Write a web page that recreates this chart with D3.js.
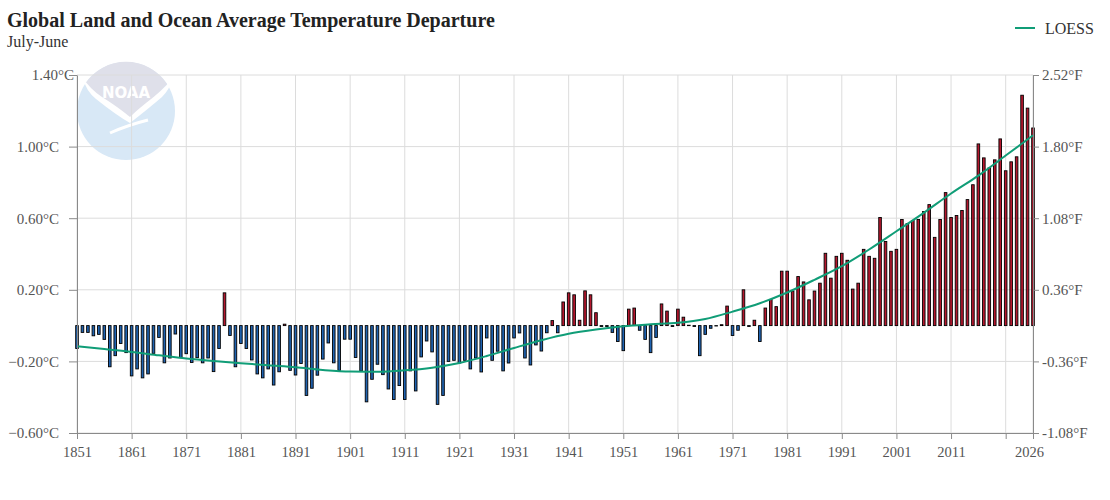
<!DOCTYPE html>
<html>
<head>
<meta charset="utf-8">
<script src="https://cdn.jsdelivr.net/npm/d3@7"></script>
<style>
  body { margin: 0; background: #fff; }
  #chart-area text { font-family: "Liberation Serif", "Times New Roman", serif; }
</style>
</head>
<body>
<div id="chart-area"></div>
<script>
// July-June anomalies (°C), one per year starting at startYear
var startYear = 1851;
var anomalies = [
  -0.128,-0.038,-0.038,-0.057,-0.049,-0.077,-0.23,-0.168,-0.10,-0.151,
  -0.281,-0.242,-0.292,-0.27,-0.155,-0.066,-0.208,-0.181,-0.047,-0.179,
  -0.157,-0.206,-0.179,-0.208,-0.181,-0.257,-0.128,0.183,-0.055,-0.23,
  -0.10,-0.128,-0.192,-0.27,-0.292,-0.242,-0.332,-0.258,0.008,-0.25,
  -0.276,-0.212,-0.39,-0.35,-0.277,-0.187,-0.097,-0.208,-0.25,-0.076,
  -0.076,-0.178,-0.253,-0.426,-0.30,-0.216,-0.274,-0.354,-0.413,-0.335,
  -0.413,-0.253,-0.365,-0.175,-0.086,-0.147,-0.44,-0.39,-0.2,-0.194,
  -0.209,-0.194,-0.242,-0.181,-0.259,-0.069,-0.194,-0.143,-0.253,-0.209,
  -0.069,-0.041,-0.181,-0.22,-0.108,-0.142,-0.04,0.028,-0.04,0.132,
  0.183,0.172,0.03,0.194,0.172,0.072,-0.005,-0.005,-0.038,-0.089,
  -0.14,0.092,0.098,-0.026,-0.077,-0.151,-0.066,0.121,0.081,-0.005,
  0.092,0.047,0.002,-0.005,-0.168,-0.049,-0.015,-0.002,0.005,0.109,
  -0.055,-0.026,0.2,-0.005,0.03,-0.089,0.098,0.146,0.106,0.304,
  0.304,0.193,0.274,0.244,0.144,0.193,0.237,0.404,0.265,0.387,
  0.404,0.365,0.204,0.237,0.426,0.387,0.376,0.604,0.47,0.415,
  0.426,0.593,0.57,0.587,0.593,0.637,0.676,0.493,0.593,0.743,
  0.604,0.615,0.643,0.704,0.787,1.015,0.937,0.881,0.926,1.043,
  0.865,0.915,0.943,1.287,1.215,1.104
];

// LOESS curve every five years
var loessYears = [1851,1856,1861,1866,1871,1876,1881,1886,1891,1896,1901,1906,1911,1916,1921,1926,1931,1936,
  1941,1946,1951,1956,1961,1966,1971,1976,1981,1986,1991,1996,2001,2006,2011,2016,2021,2026];
var loessValues = [-0.115,-0.131,-0.147,-0.166,-0.184,-0.198,-0.21,-0.222,-0.233,-0.248,-0.257,-0.258,-0.25,-0.235,
  -0.209,-0.17,-0.125,-0.082,-0.046,-0.022,-0.004,0.007,0.016,0.037,0.078,0.125,0.185,0.256,0.332,0.425,
  0.527,0.63,0.738,0.838,0.95,1.063];

var gridYears = [1851,1861,1871,1881,1891,1901,1911,1921,1931,1941,1951,1961,1971,1981,1991,2001,2011,2021,2026];
var labelYears = [1851,1861,1871,1881,1891,1901,1911,1921,1931,1941,1951,1961,1971,1981,1991,2001,2011,2026];
var celsiusTicks = [-0.6, -0.2, 0.2, 0.6, 1.0, 1.4];
var fahrenheitLabels = ["-1.08°F", "-0.36°F", "0.36°F", "1.08°F", "1.80°F", "2.52°F"];


TempChart = function(_parentElement) {
  this.parentElement = _parentElement;
  this.margin = {top: 75, right: 77, bottom: 67, left: 77};
  this.width = 1110 - this.margin.left - this.margin.right;
  this.height = 500 - this.margin.top - this.margin.bottom;

  this.initVis();
}

TempChart.prototype.initVis = function() {
  var vis = this;

  vis.root = d3.select("#" + vis.parentElement)
    .append("svg")
    .attr("width", 1110)
    .attr("height", 500);

  vis.drawLogo();

  vis.svg = vis.root.append("g")
    .attr("transform", "translate(" + vis.margin.left + "," + vis.margin.top + ")");

  vis.x = d3.scaleLinear()
    .domain([1851, 2026])
    .range([0, vis.width]);

  vis.y = d3.scaleLinear()
    .domain([-0.6, 1.4])
    .range([vis.height, 0]);

  vis.data = anomalies.map(function(d, i) {
    return {year: startYear + i, value: d};
  });

  vis.loess = loessYears.map(function(d, i) {
    return {year: d, value: loessValues[i]};
  });

  vis.drawTitles();
  vis.updateVis();
}

TempChart.prototype.drawLogo = function() {
  var vis = this;

  var logo = vis.root.append("g")
    .attr("transform", "translate(126,111)");

  logo.append("circle")
    .attr("r", 49)
    .attr("fill", "#d8e8f6");

  // upper cap of the logo
  logo.append("path")
    .attr("d", "M-41,-27 A49,49 0 0 1 41,-27 Q20,-4 4,9 Q-18,-4 -41,-27 Z")
    .attr("fill", "#dfe0ea");

  // gull
  logo.append("path")
    .attr("d", "M-43,-33 Q-40,-20 -30,-12 Q-10,4 4,12 Q22,-2 36,-14 Q44,-22 46,-32 Q36,-20 20,-8 Q10,0 4,6 Q-8,-4 -24,-14 Q-36,-22 -43,-33 Z")
    .attr("fill", "#fff");

  logo.append("path")
    .attr("d", "M-16,22 Q2,14 22,9")
    .attr("fill", "none")
    .attr("stroke", "#fff")
    .attr("stroke-width", 3);

  logo.append("text")
    .attr("x", 0)
    .attr("y", -13)
    .attr("text-anchor", "middle")
    .attr("fill", "#fff")
    .attr("font-size", 15)
    .attr("font-weight", "bold")
    .style("font-family", "'DejaVu Sans', sans-serif")
    .text("NOAA");
}

TempChart.prototype.drawTitles = function() {
  var vis = this;

  vis.root.append("text")
    .attr("x", 7)
    .attr("y", 27)
    .attr("font-size", 20)
    .attr("font-weight", "bold")
    .attr("fill", "#222")
    .text("Global Land and Ocean Average Temperature Departure");

  vis.root.append("text")
    .attr("x", 7)
    .attr("y", 47)
    .attr("font-size", 16)
    .attr("fill", "#333")
    .text("July-June");

  // legend
  vis.root.append("line")
    .attr("x1", 1015)
    .attr("x2", 1035)
    .attr("y1", 28)
    .attr("y2", 28)
    .attr("stroke", "#109d77")
    .attr("stroke-width", 2);

  vis.root.append("text")
    .attr("x", 1045)
    .attr("y", 34)
    .attr("font-size", 16)
    .attr("fill", "#333")
    .text("LOESS");
}

TempChart.prototype.updateVis = function() {
  var vis = this;

  // grid
  vis.svg.selectAll(".hgrid")
    .data(celsiusTicks)
    .enter().append("line")
    .attr("class", "hgrid")
    .attr("x1", 0)
    .attr("x2", vis.width)
    .attr("y1", function(d) { return vis.y(d); })
    .attr("y2", function(d) { return vis.y(d); })
    .attr("stroke", "#dcdcdc");

  vis.svg.selectAll(".vgrid")
    .data(gridYears)
    .enter().append("line")
    .attr("class", "vgrid")
    .attr("x1", function(d) { return vis.x(d); })
    .attr("x2", function(d) { return vis.x(d); })
    .attr("y1", 0)
    .attr("y2", vis.height)
    .attr("stroke", "#dcdcdc");

  // bars
  var barWidth = 2.6;
  vis.svg.selectAll(".bar")
    .data(vis.data)
    .enter().append("rect")
    .attr("class", "bar")
    .attr("x", function(d) { return vis.x(d.year) - barWidth / 2; })
    .attr("y", function(d) { return vis.y(Math.max(0, d.value)); })
    .attr("width", barWidth)
    .attr("height", function(d) {
      return Math.max(0.4, Math.abs(vis.y(d.value) - vis.y(0)));
    })
    .attr("fill", function(d) {
      if (d.value >= 0)
        return "#b5172e";
      else
        return "#1f63b1";
    })
    .attr("stroke", "#000")
    .attr("stroke-width", 0.9);

  // LOESS line
  var line = d3.line()
    .x(function(d) { return vis.x(d.year); })
    .y(function(d) { return vis.y(d.value); })
    .curve(d3.curveMonotoneX);

  vis.svg.append("path")
    .datum(vis.loess)
    .attr("d", line)
    .attr("fill", "none")
    .attr("stroke", "#109d77")
    .attr("stroke-width", 2);

  // axes
  var left = vis.svg.append("g")
    .call(d3.axisLeft(vis.y)
      .tickValues(celsiusTicks)
      .tickFormat(function(d) { return d3.format(".2f")(d) + "°C"; })
      .tickSize(8)
      .tickSizeOuter(0)
      .tickPadding(10));

  var right = vis.svg.append("g")
    .attr("transform", "translate(" + vis.width + ",0)")
    .call(d3.axisRight(vis.y)
      .tickValues(celsiusTicks)
      .tickFormat(function(d, i) { return fahrenheitLabels[i]; })
      .tickSize(6)
      .tickSizeOuter(0)
      .tickPadding(3));

  var bottom = vis.svg.append("g")
    .attr("transform", "translate(0," + vis.height + ")")
    .call(d3.axisBottom(vis.x)
      .tickValues(gridYears)
      .tickFormat(function(d) { return labelYears.indexOf(d) >= 0 ? d : ""; })
      .tickSize(6)
      .tickSizeOuter(0)
      .tickPadding(8));

  [left, right, bottom].forEach(function(g) {
    g.select(".domain").attr("stroke", "#8a8a8a");
    g.selectAll(".tick line").attr("stroke", "#8a8a8a");
    g.selectAll("text")
      .attr("fill", "#555")
      .style("font-size", "15px")
      .style("font-family", "'Liberation Serif', 'Times New Roman', serif");
  });

  bottom.selectAll("text").style("font-size", "14.5px");

  left.selectAll("text").filter(function(d) { return d === 1.4; })
    .attr("x", -3);

  bottom.selectAll("text").filter(function(d) { return d === 2026; })
    .attr("x", -4);
}

var chart = new TempChart("chart-area");
</script>
</body>
</html>
